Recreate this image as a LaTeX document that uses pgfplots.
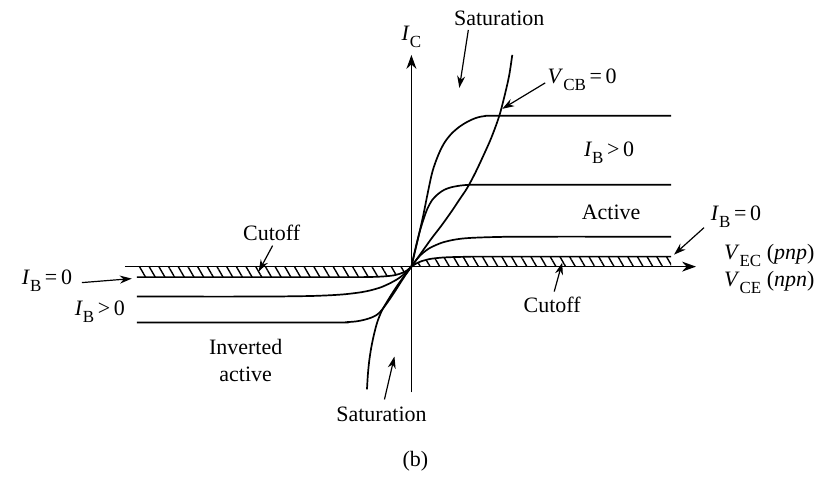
\documentclass[border=0pt]{standalone}
\usepackage{fontspec}
\setmainfont{Liberation Serif}
\usepackage{pgfplots}
\pgfplotsset{compat=1.18}
\usetikzlibrary{patterns.meta,arrows.meta}
\newcommand{\sub}[1]{\raisebox{-0.3em}{\fontsize{8.5}{9}\selectfont #1}}
\newcommand{\IB}{\textit{I}\sub{B}}
\begin{document}
\begin{tikzpicture}
\begin{axis}[x=0.5pt,y=0.5pt,xmin=-412,xmax=409,ymin=-207,ymax=267,
  hide axis,clip=false,
  every axis plot/.append style={line width=0.85pt,black},
  font=\fontsize{11}{13}\selectfont]
\path (axis cs:-412,-207) rectangle (axis cs:409,267);
% hatched bands (cutoff)
\addplot[draw=none,pattern={Lines[angle=-60,distance=4.2pt,line width=0.7pt]}] coordinates {
(0,0)(5,3.2)(10,5.4)(15,6.8)(20,7.9)(30,9.0)(40,9.5)(55,9.85)(70,10)(260,10)(260,0)} -- cycle;
\addplot[draw=none,pattern={Lines[angle=-60,distance=4.2pt,line width=0.7pt]}] coordinates {
(-275,-10.5)(-60,-10.5)(-45,-10.4)(-35,-10.2)(-25,-9.6)(-18,-8.8)(-12,-7.3)(-8,-5.8)(-4,-3.5)(0,0)(-275,0)} -- cycle;
% axes
\addplot[-{Stealth[length=7pt,width=5pt]}] coordinates {(-287,0)(285,0)};
\addplot[-{Stealth[length=7pt,width=5pt]}] coordinates {(0,-126)(0,212)};
% first quadrant curves
\addplot[smooth] coordinates {(0,0)(4,17)(8,34)(12,52)(16,72)(21,95)(27,112)(33,124)(40,133)(48,140)(56,145)(65,149)(75,151)(90,151)(260,151)};
\addplot[smooth] coordinates {(0,0)(4,18)(8,34)(12,47)(16,58)(21,67)(27,73)(33,77)(40,79.5)(50,81.3)(60,82)(75,82)(260,82)};
\addplot[smooth] coordinates {(0,0)(5,6.9)(10,12.3)(15,16.4)(20,19.5)(30,23.8)(40,26.4)(50,28.0)(60,28.8)(75,29.4)(90,29.75)(110,30)(260,30)};
\addplot[smooth] coordinates {(0,0)(5,3.2)(10,5.4)(15,6.8)(20,7.9)(30,9.0)(40,9.5)(55,9.85)(70,10)(260,10)};
% third quadrant curves
\addplot[smooth] coordinates {(-275,-10.5)(-60,-10.5)(-45,-10.4)(-35,-10.2)(-25,-9.6)(-18,-8.8)(-12,-7.3)(-8,-5.8)(-4,-3.5)(0,0)};
\addplot[smooth] coordinates {(-275,-30)(-150,-30)(-120,-29.7)(-100,-29.4)(-80,-28.6)(-65,-27.5)(-50,-25.6)(-40,-23.5)(-30,-20.5)(-20,-15.9)(-12,-11.2)(-6,-6.2)(0,0)};
\addplot[smooth] coordinates {(-275,-56)(-80,-56)(-65,-55.6)(-55,-54.8)(-47,-53.2)(-40,-51)(-35,-48.5)(-31,-45)(-27,-40)(-22,-33)(-16,-24)(-9,-13)(-4,-5.5)(0,0)};
% saturation boundary V_CB = 0
\addplot[smooth] coordinates {(-44.5,-123)(-43.6,-108)(-42.2,-94)(-40.2,-81)(-37.5,-68)(-34,-55)(-29,-43)(-20,-28)(-12,-16)(0,0)(10,14)(20,28)(30,41)(40,55)(48,67)(56,79)(64,94)(72,111)(80,129)(88,151)(94,174)(98,192)(101,212)};
% annotations
\tikzset{ann/.style={line width=0.6pt,-{Stealth[length=6pt,width=4pt]}}}
\node at (axis cs:88,249) {Saturation};
\draw[ann] (axis cs:57,237) -- (axis cs:48,179);
\node at (axis cs:0,230) {\textit{I}\sub{C}};
\node at (axis cs:171,187) {\textit{V}\sub{CB}\,=\,0};
\draw[ann] (axis cs:134,184) -- (axis cs:91,158);
\node at (axis cs:198,114) {\IB\,>\,0};
\node at (axis cs:200,54) {Active};
\node at (axis cs:325,50) {\IB\,=\,0};
\draw[ann] (axis cs:293,39) -- (axis cs:263,12);
\node[anchor=west] at (axis cs:306,11) {\textit{V}\sub{EC} (\textit{pnp})};
\node[anchor=west] at (axis cs:306,-16) {\textit{V}\sub{CE} (\textit{npn})};
\node at (axis cs:141,-38) {Cutoff};
\draw[ann] (axis cs:143,-25) -- (axis cs:151,4);
\node at (axis cs:-140,34) {Cutoff};
\draw[ann] (axis cs:-139,21) -- (axis cs:-153,-5);
\node at (axis cs:-365,-14) {\IB\,=\,0};
\draw[ann] (axis cs:-330,-16) -- (axis cs:-280,-12);
\node at (axis cs:-312,-45) {\IB\,>\,0};
\node at (axis cs:-166,-80) {Inverted};
\node at (axis cs:-166,-108) {active};
\node at (axis cs:-30,-148) {Saturation};
\draw[ann] (axis cs:-27,-133) -- (axis cs:-17,-90);
\node at (axis cs:4,-195) {(b)};
\end{axis}
\end{tikzpicture}
\end{document}
